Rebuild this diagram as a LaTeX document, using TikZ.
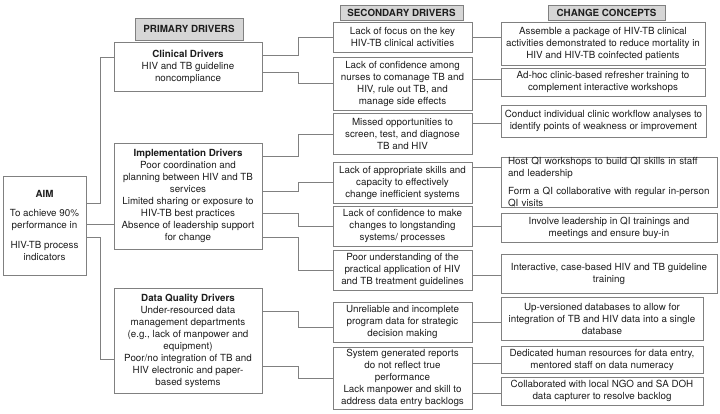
\documentclass[tikz,border=0pt]{standalone}
\usepackage{fontspec}
\setmainfont{TeX Gyre Heros}
\definecolor{linegray}{HTML}{808080}
\definecolor{hdrfill}{HTML}{D6D6D6}
\definecolor{txt}{HTML}{1E1E1E}
\tikzset{
  bx/.style={draw=linegray, line width=0.8pt, inner sep=0pt, align=center,
    font=\fontsize{9.8}{12}\selectfont, text=txt},
  hdr/.style={bx, fill=hdrfill, font=\bfseries\fontsize{9.8}{12}\selectfont},
  conn/.style={draw=linegray, line width=0.8pt},
}
\begin{document}
\begin{tikzpicture}[x=1pt,y=-1pt]
\useasboundingbox[fill=white] (0,0) rectangle (720,413);
% headers
\node[hdr, minimum width=108pt, minimum height=22pt] (hp) at (189,29) {PRIMARY DRIVERS};
\node[hdr, minimum width=123pt, minimum height=15pt] (hs) at (401.5,12.5) {SECONDARY DRIVERS};
\node[hdr, minimum width=117pt, minimum height=15pt] (hc) at (606.5,12.5) {CHANGE CONCEPTS};
% aim
\node[bx, minimum width=83pt, minimum height=99pt] (aim) at (44.5,225.5)
  {\textbf{AIM}\\[7pt]To achieve 90\%\\performance in\\[8pt]HIV-TB process\\indicators};
% primary
\node[bx, minimum width=148pt, minimum height=49pt] (clin) at (188,66.5)
  {\textbf{Clinical Drivers}\\HIV and TB guideline\\noncompliance};
\node[bx, minimum width=148pt, minimum height=106pt] (impl) at (188,196)
  {\textbf{Implementation Drivers}\\Poor coordination and\\planning between HIV and TB\\services\\Limited sharing or exposure to\\HIV-TB best practices\\Absence of leadership support\\for change};
\node[bx, minimum width=148pt, minimum height=105pt] (data) at (188,340.5)
  {\textbf{Data Quality Drivers}\\Under-resourced data\\management departments\\(e.g., lack of manpower and\\equipment)\\Poor/no integration of TB and\\HIV electronic and paper-\\based systems};
% secondary
\node[bx, minimum width=139pt, minimum height=30pt] (s1) at (402.5,37)
  {Lack of focus on the key\\HIV-TB clinical activities};
\node[bx, minimum width=139pt, minimum height=53pt] (s2) at (402.5,83.5)
  {Lack of confidence among\\nurses to comanage TB and\\HIV, rule out TB, and\\manage side effects};
\node[bx, minimum width=139pt, minimum height=41pt] (s3) at (402.5,133.5)
  {Missed opportunities to\\screen, test, and diagnose\\TB and HIV};
\node[bx, minimum width=139pt, minimum height=41pt] (s4) at (402.5,182.5)
  {Lack of appropriate skills and\\capacity to effectively\\change inefficient systems};
\node[bx, minimum width=139pt, minimum height=40pt] (s5) at (402.5,226)
  {Lack of confidence to make\\changes to longstanding\\systems/ processes};
\node[bx, minimum width=139pt, minimum height=40pt] (s6) at (402.5,270)
  {Poor understanding of the\\practical application of HIV\\and TB treatment guidelines};
\node[bx, minimum width=139pt, minimum height=40pt] (s7) at (402.5,322)
  {Unreliable and incomplete\\program data for strategic\\decision making};
\node[bx, minimum width=139pt, minimum height=62pt] (s8) at (402.5,378)
  {System generated reports\\do not reflect true\\performance\\Lack manpower and skill to\\address data entry backlogs};
% change concepts
\node[bx, minimum width=204pt, minimum height=43pt] (c1) at (603,43.5)
  {Assemble a package of HIV-TB clinical\\activities demonstrated to reduce mortality in\\HIV and HIV-TB coinfected patients};
\node[bx, minimum width=204pt, minimum height=28pt] (c2) at (603,82)
  {Ad-hoc clinic-based refresher training to\\complement interactive workshops};
\node[bx, minimum width=205pt, minimum height=32pt] (c3) at (603.5,121)
  {Conduct individual clinic workflow analyses to\\identify points of weakness or improvement};
\node[bx, minimum width=216pt, minimum height=49pt, text width=202pt, align=left] (c4) at (609,182.5)
  {\mbox{Host QI workshops to build QI skills in staff}\\\mbox{and leadership}\\[6pt]\mbox{Form a QI collaborative with regular in-person}\\\mbox{QI visits}};
\node[bx, minimum width=216pt, minimum height=29pt] (c5) at (609,227.5)
  {Involve leadership in QI trainings and\\meetings and ensure buy-in};
\node[bx, minimum width=216pt, minimum height=39pt] (c6) at (609,273.5)
  {Interactive, case-based HIV and TB guideline\\training};
\node[bx, minimum width=202pt, minimum height=43pt] (c7) at (602,318.5)
  {Up-versioned databases to allow for\\integration of TB and HIV data into a single\\database};
\node[bx, minimum width=202pt, minimum height=27pt] (c8) at (602,359.5)
  {Dedicated human resources for data entry,\\mentored staff on data numeracy};
\node[bx, minimum width=202pt, minimum height=28pt] (c9) at (602,391)
  {Collaborated with local NGO and SA DOH\\data capturer to resolve backlog};
% aim connectors
\draw[conn] (aim.east |- 0,203) -- ++(14,0) |- (clin.west |- 0,57);
\draw[conn] (aim.east |- 0,224) -- (impl.west |- 0,224);
\draw[conn] (aim.east |- 0,237) -- ++(14,0) |- (data.west |- 0,359);
% primary -> secondary
\draw[conn] (clin.east |- 0,55) -- ++(35.5,0) |- (s1.west);
\draw[conn] (clin.east |- 0,72) -- ++(35.5,0) |- (s2.west |- 0,83);
\draw[conn] (impl.east |- 0,156) -- ++(35.5,0) |- (s3.west |- 0,134);
\draw[conn] (impl.east |- 0,191) -- ++(35.5,0) |- (s4.west |- 0,182);
\draw[conn] (impl.east |- 0,213) -- ++(35.5,0) |- (s5.west |- 0,226);
\draw[conn] (impl.east |- 0,237) -- ++(35.5,0) |- (s6.west |- 0,270);
\draw[conn] (data.east |- 0,311) -- ++(35.5,0) |- (s7.west |- 0,327);
\draw[conn] (data.east |- 0,366) -- ++(35.5,0) |- (s8.west |- 0,378);
% secondary -> change
\draw[conn] (s1.east |- 0,37) -- (c1.west |- 0,37);
\draw[conn] (s2.east |- 0,79) -- (c2.west |- 0,79);
\draw[conn] (s3.east |- 0,123) -- (c3.west |- 0,123);
\draw[conn] (s4.east |- 0,167) -- (c4.west |- 0,167);
\draw[conn] (s5.east |- 0,226) -- (c5.west |- 0,226);
\draw[conn] (s6.east |- 0,275) -- (c6.west |- 0,275);
\draw[conn] (s7.east |- 0,322) -- (c7.west |- 0,322);
\draw[conn] (s8.east |- 0,363) -- (c8.west |- 0,363);
\draw[conn] (s8.east |- 0,393) -- (c9.west |- 0,393);
\end{tikzpicture}
\end{document}
